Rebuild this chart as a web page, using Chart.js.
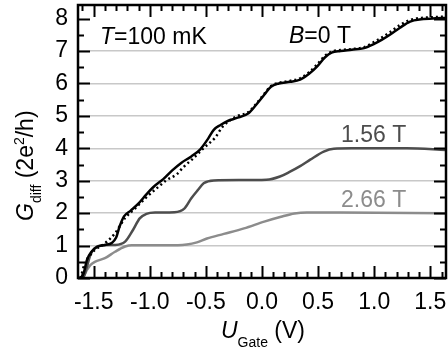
<!DOCTYPE html>
<html>
<head>
<meta charset="utf-8">
<script src="https://cdn.jsdelivr.net/npm/chart.js@4.4.1/dist/chart.umd.min.js"></script>
<style>
html,body{margin:0;padding:0;background:#fff;}
#wrap{position:relative;width:448px;height:349px;}
</style>
</head>
<body>
<div id="wrap"><canvas id="c"></canvas></div>
<script>
// ---- data (U_Gate in V, G_diff in 2e^2/h) ----
const xTickValues = [-1.5, -1.0, -0.5, 0.0, 0.5, 1.0, 1.5];
const yTickValues = [0, 1, 2, 3, 4, 5, 6, 7, 8];

const uB0 = [-1.62,-1.59,-1.56,-1.52,-1.47,-1.40,-1.34,-1.30,-1.27,-1.23,-1.17,-1.10,-1.03,-0.97,-0.88,-0.80,-0.72,-0.63,-0.55,-0.48,-0.43,-0.37,-0.30,-0.23,-0.12,-0.05,0.02,0.08,0.15,0.25,0.34,0.42,0.49,0.56,0.62,0.70,0.80,0.91,1.00,1.07,1.14,1.23,1.32,1.42,1.55,1.64];
const gB0 = [0.00,0.14,0.56,0.81,0.96,1.02,1.08,1.25,1.58,1.90,2.08,2.30,2.58,2.80,3.05,3.32,3.55,3.75,3.97,4.30,4.57,4.72,4.85,4.93,5.08,5.35,5.65,5.90,6.00,6.05,6.12,6.30,6.52,6.80,6.95,7.00,7.04,7.09,7.22,7.35,7.50,7.72,7.91,7.98,8.01,8.02];

const uB0dot = [-1.62,-1.61,-1.58,-1.53,-1.49,-1.40,-1.31,-1.22,-1.13,-1.04,-0.92,-0.85,-0.76,-0.70,-0.61,-0.52,-0.42,-0.35,-0.23,-0.12,-0.05,0.02,0.08,0.15,0.25,0.34,0.42,0.49,0.56,0.62,0.70,0.80,0.91,1.00,1.07,1.14,1.23,1.32,1.42,1.55,1.64];
const gB0dot = [0.00,0.09,0.45,0.71,0.86,1.07,1.38,1.85,2.15,2.46,2.82,3.02,3.20,3.42,3.70,4.01,4.32,4.67,4.98,5.12,5.38,5.68,5.92,6.02,6.08,6.16,6.35,6.58,6.85,6.98,7.03,7.06,7.12,7.28,7.42,7.58,7.80,7.96,8.02,8.05,8.06];

const uB156 = [-1.62,-1.59,-1.56,-1.53,-1.49,-1.43,-1.31,-1.22,-1.15,-1.09,-1.03,-0.95,-0.78,-0.69,-0.63,-0.57,-0.52,-0.43,-0.20,0.04,0.16,0.25,0.34,0.43,0.55,0.64,0.80,1.29,1.64];
const gB156 = [0.00,0.04,0.35,0.71,0.92,1.01,1.02,1.12,1.48,1.84,1.98,2.02,2.03,2.15,2.46,2.72,2.92,3.01,3.02,3.03,3.13,3.28,3.45,3.65,3.90,3.99,4.00,4.00,3.95];

const uB266 = [-1.62,-1.59,-1.56,-1.53,-1.49,-1.40,-1.31,-1.22,-1.16,-0.75,-0.67,-0.58,-0.49,-0.34,-0.16,0.02,0.17,0.29,0.40,0.70,1.64];
const gB266 = [0.00,0.04,0.25,0.40,0.50,0.61,0.81,0.97,1.01,1.01,1.03,1.10,1.22,1.36,1.53,1.74,1.89,1.99,2.02,2.02,2.00];

const pts = (xs, ys) => xs.map((x, i) => ({x: x, y: ys[i]}));

const FONT = "'Liberation Sans', Arial, sans-serif";
const FS = 23;

function drawRich(ctx, parts, x, y) {
  let cx = x;
  for (const p of parts) {
    ctx.font = (p.italic ? 'italic ' : '') + p.size + 'px ' + FONT;
    ctx.fillText(p.text, cx, y + (p.dy || 0));
    cx += ctx.measureText(p.text).width;
  }
}

const framePlugin = {
  id: 'frame',
  afterDraw(chart) {
    const ctx = chart.ctx;
    const a = chart.chartArea;
    const xs = chart.scales.x, ys = chart.scales.y;
    ctx.save();
    ctx.strokeStyle = '#000';
    ctx.lineWidth = 2;
    for (let i = -16; i <= 16; i++) {
      const v = i / 10;
      const px = Math.round(xs.getPixelForValue(v)) + 0.5;
      const len = (i % 5 === 0) ? 12 : 6;
      ctx.beginPath();
      ctx.moveTo(px, a.bottom); ctx.lineTo(px, a.bottom - len);
      ctx.moveTo(px, a.top); ctx.lineTo(px, a.top + len);
      ctx.stroke();
    }
    for (let i = 0; i <= 16; i++) {
      const v = i / 2;
      const py = Math.round(ys.getPixelForValue(v)) + 0.5;
      const len = (i % 2 === 0) ? 12 : 6;
      ctx.beginPath();
      ctx.moveTo(a.left, py); ctx.lineTo(a.left + len, py);
      ctx.moveTo(a.right, py); ctx.lineTo(a.right - len, py);
      ctx.stroke();
    }
    ctx.lineWidth = 2.5;
    ctx.strokeRect(a.left, a.top, a.right - a.left, a.bottom - a.top);

    ctx.textBaseline = 'alphabetic';
    ctx.textAlign = 'left';
    ctx.fillStyle = '#000';
    drawRich(ctx, [{text: 'T', italic: true, size: FS}, {text: '=100 mK', size: FS}], 100, 44);
    drawRich(ctx, [{text: 'B', italic: true, size: FS}, {text: '=0 T', size: FS}], 289, 43);
    ctx.fillStyle = '#4d4d4d';
    drawRich(ctx, [{text: '1.56 T', size: FS}], 341, 142);
    ctx.fillStyle = '#8c8c8c';
    drawRich(ctx, [{text: '2.66 T', size: FS}], 341, 207);

    ctx.fillStyle = '#000';
    drawRich(ctx, [
      {text: 'U', italic: true, size: FS},
      {text: 'Gate', size: 14, dy: 9},
      {text: ' (V)', size: FS}
    ], 221, 338);

    ctx.translate(33, 221);
    ctx.rotate(-Math.PI / 2);
    drawRich(ctx, [
      {text: 'G', italic: true, size: FS},
      {text: 'diff', size: 14, dy: 8},
      {text: ' (2e', size: FS},
      {text: '2', size: 14, dy: -9},
      {text: '/h)', size: FS}
    ], 0, 0);
    ctx.restore();
  }
};

new Chart(document.getElementById('c'), {
  type: 'line',
  data: {
    datasets: [
      {label: 'B=0 T', data: pts(uB0, gB0), borderColor: '#000', borderWidth: 2.5},
      {label: 'B=0 T (dotted)', data: pts(uB0dot, gB0dot), borderColor: '#000', borderWidth: 2.5, borderDash: [2, 3]},
      {label: '1.56 T', data: pts(uB156, gB156), borderColor: '#4d4d4d', borderWidth: 2.5},
      {label: '2.66 T', data: pts(uB266, gB266), borderColor: '#8c8c8c', borderWidth: 2.5}
    ]
  },
  options: {
    responsive: true,
    maintainAspectRatio: false,
    animation: false,
    events: [],
    elements: {point: {radius: 0}, line: {cubicInterpolationMode: 'monotone', fill: false}},
    layout: {padding: {top: 5, right: 2, left: 0, bottom: 0}},
    plugins: {legend: {display: false}, tooltip: {enabled: false}},
    scales: {
      x: {
        type: 'linear', min: -1.64, max: 1.64,
        afterFit(s) { s.height = 71; s.paddingLeft = 0; s.paddingRight = 0; },
        afterBuildTicks(s) { s.ticks = xTickValues.map(v => ({value: v})); },
        grid: {display: false, drawTicks: false},
        border: {display: false},
        ticks: {
          color: '#000', padding: 11, maxRotation: 0, autoSkip: false,
          font: {family: FONT, size: FS},
          callback: v => v.toFixed(1)
        }
      },
      y: {
        type: 'linear', min: 0, max: 8.42,
        afterFit(s) { s.width = 78; s.paddingTop = 0; s.paddingBottom = 0; },
        afterBuildTicks(s) { s.ticks = yTickValues.map(v => ({value: v})); },
        grid: {
          drawTicks: false, lineWidth: 1.5,
          color: c => (c.tick && c.tick.value >= 1 && c.tick.value <= 7) ? '#c8c8c8' : 'rgba(0,0,0,0)'
        },
        border: {display: false},
        ticks: {
          color: '#000', padding: 10, autoSkip: false,
          font: {family: FONT, size: FS},
          callback: v => String(v)
        }
      }
    }
  },
  plugins: [framePlugin]
});
</script>
</body>
</html>
